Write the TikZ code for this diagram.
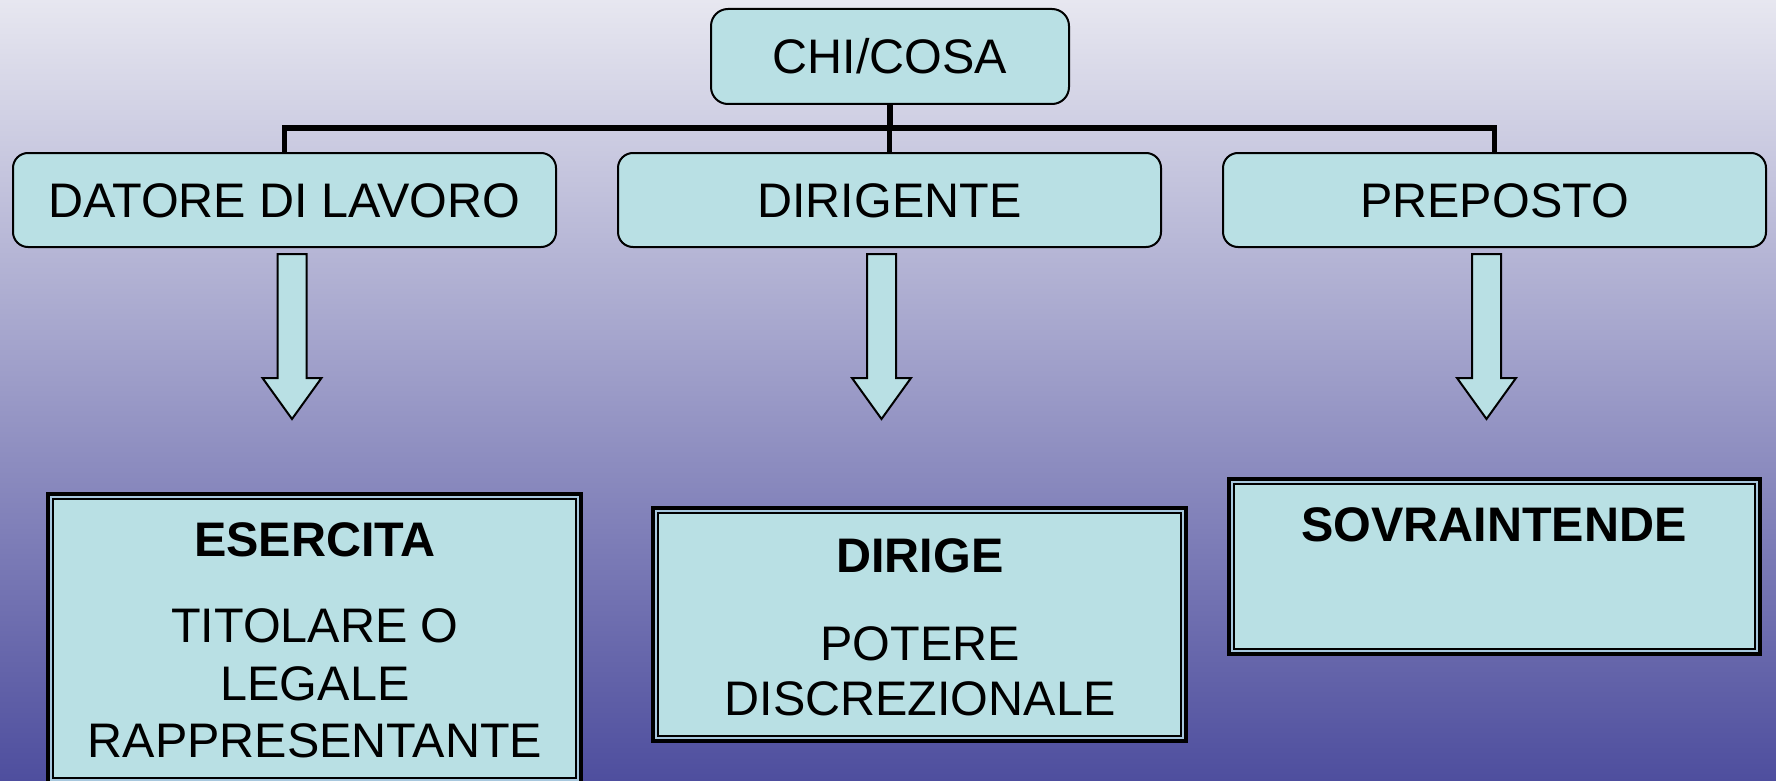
\documentclass[tikz,border=0pt]{standalone}
\usepackage{fontspec}
\setmainfont{Liberation Sans}
\definecolor{boxfill}{RGB}{185,224,228}
\definecolor{gapcol}{RGB}{168,200,222}
\definecolor{bgtop}{RGB}{231,231,240}
\definecolor{bgbot}{RGB}{78,78,158}
\begin{document}
\begin{tikzpicture}[x=1pt,y=-1pt,
  rbox/.style={draw=black, line width=2pt, fill=boxfill, rounded corners=15pt,
    minimum width=543pt, minimum height=94pt, inner sep=0pt,
    text height=35pt, text depth=0pt, font=\fontsize{48.5}{58}\selectfont},
  dbox/.style={draw=black, line width=4pt, fill=gapcol, inner sep=0pt},
  dinner/.style={draw=black, line width=2pt, fill=boxfill},
  conn/.style={draw=black, line width=5.5pt, line join=miter},
  barrow/.style={draw=black, line width=2pt, fill=boxfill, line join=miter},
  ttl/.style={font=\fontsize{48.5}{58}\selectfont\bfseries, anchor=base, inner sep=0pt},
  bdy/.style={font=\fontsize{48.5}{58}\selectfont, anchor=base, inner sep=0pt}]

\useasboundingbox (0,0) rectangle (1776,781);
\clip (0,0) rectangle (1776,781);
\shade[top color=bgtop, bottom color=bgbot] (0,0) rectangle (1776,781);

% top level
\node[rbox, minimum width=358pt, minimum height=95pt, rounded corners=17pt] (chi) at (890,56.5) {CHI/COSA};
\node[rbox] (datore) at (284.5,200) {DATORE DI LAVORO};
\node[rbox] (dirigente) at (889.5,200) {DIRIGENTE};
\node[rbox] (preposto) at (1494.5,200) {PREPOSTO};

% connectors
\coordinate (bus) at (0,128);
\draw[conn] (chi.south) -- (chi.south |- bus);
\draw[conn] (datore.north) -- (datore.north |- bus) -- (preposto.north |- bus) -- (preposto.north);
\draw[conn] (dirigente.north) -- (dirigente.north |- bus);

% block arrows
\foreach \cx in {292,881.5,1486.5}{
  \draw[barrow] ({\cx-14.5},254) -- ({\cx+14.5},254) -- ({\cx+14.5},378)
    -- ({\cx+29.5},378) -- (\cx,419) -- ({\cx-29.5},378) -- ({\cx-14.5},378) -- cycle;
}

% double-bordered boxes
\node[dbox, minimum width=533pt, minimum height=289pt] (esercita) at (314.5,638.5) {};
\draw[dinner] ([shift={(7,7)}]esercita.north west) rectangle ([shift={(-7,-7)}]esercita.south east);
\node[dbox, minimum width=533pt, minimum height=233pt] (dirige) at (919.5,624.5) {};
\draw[dinner] ([shift={(7,7)}]dirige.north west) rectangle ([shift={(-7,-7)}]dirige.south east);
\node[dbox, minimum width=531pt, minimum height=175pt] (sovra) at (1494.5,566.5) {};
\draw[dinner] ([shift={(7,7)}]sovra.north west) rectangle ([shift={(-7,-7)}]sovra.south east);

% texts
\node[ttl] (t1) at (315,556) {ESERCITA};
\node[bdy] (t2) at (315,642) {TITOLARE O};
\node[bdy] (t3) at (315,700) {LEGALE};
\node[bdy] (t4) at (315,757) {RAPPRESENTANTE};
\node[ttl] (t5) at (920,572) {DIRIGE};
\node[bdy] (t6) at (920,660) {POTERE};
\node[bdy] (t7) at (920,715) {DISCREZIONALE};
\node[ttl] (t8) at (1494,541) {SOVRAINTENDE};
\end{tikzpicture}
\end{document}
